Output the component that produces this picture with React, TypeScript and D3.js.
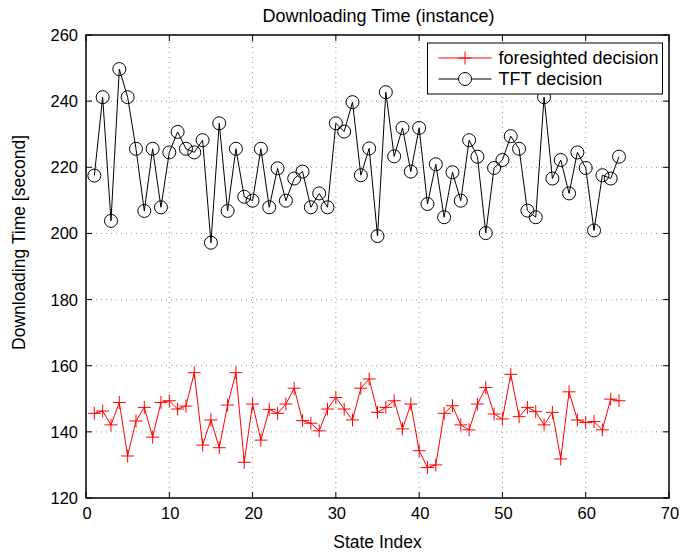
import React from "react";
import * as d3 from "d3";

const xTicks = [0, 10, 20, 30, 40, 50, 60, 70];
const yTicks = [120, 140, 160, 180, 200, 220, 240, 260];

const tftValues = [
  217.5, 241.2, 203.8, 249.7, 241.2, 225.6, 206.8, 225.6, 207.9, 224.5,
  230.7, 225.6, 224.5, 228.2, 197.2, 233.3, 206.8, 225.6, 211.1, 209.9,
  225.6, 207.9, 219.7, 209.9, 216.6, 218.7, 207.9, 212.1, 207.9, 233.3,
  230.8, 239.7, 217.6, 225.7, 199.2, 242.7, 223.3, 231.9, 218.7, 231.9,
  208.9, 220.9, 204.9, 218.5, 209.9, 228.2, 223.2, 200.1, 219.8, 222.2,
  229.4, 225.6, 206.9, 204.9, 241.2, 216.6, 222.2, 212.1, 224.5, 219.8,
  200.9, 217.6, 216.6, 223.2,
];

const foresightedValues = [
  145.6, 146.3, 142.1, 148.9, 132.7, 143.3, 147.4, 138.4, 148.9, 149.4,
  146.9, 147.8, 157.9, 136.0, 143.6, 135.2, 148.1, 157.9, 130.8, 148.4,
  137.5, 146.8, 145.6, 148.4, 153.2, 143.4, 142.6, 140.3, 146.9, 150.4,
  146.9, 143.6, 153.2, 156.0, 145.9, 147.4, 149.4, 140.9, 148.4, 134.3,
  129.2, 130.0, 145.6, 147.9, 142.1, 140.6, 148.4, 153.4, 145.4, 143.9,
  157.4, 144.6, 147.4, 146.1, 142.1, 145.9, 131.8, 152.1, 143.6, 142.8,
  143.1, 140.6, 149.9, 149.4,
];

const seriesNames = ["foresighted decision", "TFT decision"];

const W = 695;
const H = 556;
const M = { left: 86, right: 26, top: 35, bottom: 58 };
const FONT = "'Liberation Sans', Arial, Helvetica, sans-serif";

export default function App() {
  const x = d3.scaleLinear().domain([0, 70]).range([M.left, W - M.right]);
  const y = d3.scaleLinear().domain([120, 260]).range([H - M.bottom, M.top]);
  const idx = (i: number) => i + 1;

  const lineGen = d3
    .line<number>()
    .x((_, i) => x(idx(i)))
    .y((d) => y(d));

  const x0 = x(0), x1 = x(70), y0 = y(120), y1 = y(260);
  const tickLen = 6;
  const plusR = 6.5;
  const circR = 6.5;

  const plus = (cx: number, cy: number, key: string) => (
    <path
      key={key}
      d={`M${cx - plusR},${cy}H${cx + plusR}M${cx},${cy - plusR}V${cy + plusR}`}
      stroke="#ff0000"
      strokeWidth={1}
      fill="none"
    />
  );

  const lgX = 427.5, lgY = 43, lgW = 235, lgH = 51;

  return (
    <svg width={W} height={H} style={{ display: "block", position: "absolute", left: 0, top: 0 }}>
      <rect x={0} y={0} width={W} height={H} fill="#fff" />
      {/* grid */}
      <g stroke="#999" strokeWidth={1} strokeDasharray="1,4">
        {xTicks.slice(1, -1).map((t) => (
          <line key={"gx" + t} x1={x(t)} x2={x(t)} y1={y0} y2={y1} />
        ))}
        {yTicks.slice(1, -1).map((t) => (
          <line key={"gy" + t} x1={x0} x2={x1} y1={y(t)} y2={y(t)} />
        ))}
      </g>
      {/* ticks */}
      <g stroke="#000" strokeWidth={1}>
        {xTicks.map((t) => (
          <g key={"tx" + t}>
            <line x1={x(t)} x2={x(t)} y1={y0} y2={y0 - tickLen} />
            <line x1={x(t)} x2={x(t)} y1={y1} y2={y1 + tickLen} />
          </g>
        ))}
        {yTicks.map((t) => (
          <g key={"ty" + t}>
            <line x1={x0} x2={x0 + tickLen} y1={y(t)} y2={y(t)} />
            <line x1={x1} x2={x1 - tickLen} y1={y(t)} y2={y(t)} />
          </g>
        ))}
      </g>
      {/* series */}
      <path d={lineGen(tftValues) || ""} fill="none" stroke="#000" strokeWidth={1} />
      {tftValues.map((v, i) => (
        <circle key={"c" + i} cx={x(idx(i))} cy={y(v)} r={circR} fill="none" stroke="#000" strokeWidth={1} />
      ))}
      <path d={lineGen(foresightedValues) || ""} fill="none" stroke="#ff0000" strokeWidth={1} />
      {foresightedValues.map((v, i) => plus(x(idx(i)), y(v), "p" + i))}
      {/* axes box */}
      <rect x={x0} y={y1} width={x1 - x0} height={y0 - y1} fill="none" stroke="#000" strokeWidth={1.5} />
      {/* tick labels */}
      <g fontFamily={FONT} fontSize={16.5} fill="#000">
        {xTicks.map((t) => (
          <text key={"lx" + t} x={x(t) + 1} y={y0 + 21} textAnchor="middle">
            {t}
          </text>
        ))}
        {yTicks.map((t) => (
          <text key={"ly" + t} x={x0 - 8} y={y(t) + 6} textAnchor="end">
            {t}
          </text>
        ))}
      </g>
      {/* labels */}
      <text x={(x0 + x1) / 2 + 1} y={22} textAnchor="middle" fontFamily={FONT} fontSize={18}>
        Downloading Time (instance)
      </text>
      <text x={(x0 + x1) / 2} y={548} textAnchor="middle" fontFamily={FONT} fontSize={17.5}>
        State Index
      </text>
      <text
        transform={`translate(25,${(y0 + y1) / 2 - 24}) rotate(-90)`}
        textAnchor="middle"
        fontFamily={FONT}
        fontSize={17.5}
      >
        Downloading Time [second]
      </text>
      {/* legend */}
      <rect x={lgX} y={lgY} width={lgW} height={lgH} fill="#fff" stroke="#000" strokeWidth={1} />
      <line x1={lgX + 11} x2={lgX + 64} y1={lgY + 15} y2={lgY + 15} stroke="#ff0000" strokeWidth={1} />
      {plus(lgX + 37.5, lgY + 15, "lgp")}
      <text x={lgX + 71} y={lgY + 21} fontFamily={FONT} fontSize={18}>
        {seriesNames[0]}
      </text>
      <line x1={lgX + 11} x2={lgX + 64} y1={lgY + 36} y2={lgY + 36} stroke="#000" strokeWidth={1} />
      <circle cx={lgX + 37.5} cy={lgY + 36} r={circR} fill="#fff" stroke="#000" strokeWidth={1} />
      <text x={lgX + 71} y={lgY + 42} fontFamily={FONT} fontSize={18}>
        {seriesNames[1]}
      </text>
    </svg>
  );
}
